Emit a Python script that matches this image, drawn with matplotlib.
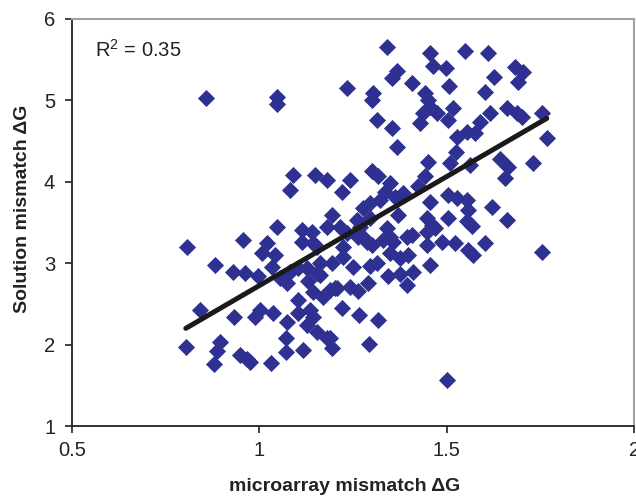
import numpy as np
import matplotlib
matplotlib.use("Agg")
from matplotlib import pyplot as plt

plt.rcParams["font.family"] = ["Liberation Sans", "DejaVu Sans"]
plt.rcParams["mathtext.default"] = "regular"

# microarray mismatch dG (x) and solution mismatch dG (y)
micro = [
    0.857, 1.047, 1.047, 1.233, 1.340, 1.455, 1.548, 1.609, 1.463, 1.497,
    1.367, 1.353, 1.407, 1.303, 1.300, 1.505, 1.625, 1.681, 1.703, 1.689,
    1.601, 1.441, 1.449, 1.455, 1.436, 1.473, 1.428, 1.516, 1.503, 1.313,
    1.353, 1.367, 1.615, 1.660, 1.687, 1.700, 1.753, 1.767, 1.588, 1.553,
    1.527, 1.575, 1.524, 1.449, 1.508, 1.561, 1.641, 1.663, 1.655, 1.729,
    1.300, 1.316, 1.441, 1.423, 1.348, 1.335, 1.321, 1.361, 1.383, 1.455,
    1.503, 1.527, 1.553, 1.556, 1.276, 1.295, 1.268, 1.369, 1.620, 1.660,
    1.447, 1.460, 1.447, 1.468, 1.503, 1.553, 1.567, 1.340, 1.348, 1.329,
    1.356, 1.393, 1.407, 1.276, 1.300, 1.447, 1.487, 1.521, 1.556, 1.569,
    1.601, 1.753, 1.348, 1.375, 1.396, 1.455, 1.409, 1.375, 1.343, 1.295,
    1.313, 1.393, 1.289, 1.241, 1.263, 1.201, 1.220, 1.265, 1.316, 1.292,
    1.193, 1.188, 1.500, 1.089, 1.148, 1.180, 1.241, 1.081, 1.220, 0.807,
    0.956, 1.047, 1.020, 1.007, 1.041, 1.033, 0.881, 0.929, 0.961, 0.996,
    1.113, 1.140, 1.113, 1.143, 1.153, 1.193, 1.180, 1.215, 1.233, 1.260,
    1.295, 1.263, 1.287, 1.193, 1.223, 1.249, 1.161, 1.127, 1.153, 1.081,
    1.223, 1.055, 1.073, 1.103, 1.129, 1.161, 1.143, 1.169, 1.188, 1.207,
    1.103, 0.841, 0.932, 0.988, 1.001, 1.036, 1.073, 1.103, 1.135, 1.143,
    1.127, 1.153, 1.180, 1.071, 0.804, 0.895, 0.887, 0.879, 0.948, 0.967,
    0.975, 1.031, 1.071, 1.116,
]
solution = [
    5.029, 5.042, 4.956, 5.152, 5.656, 5.582, 5.607, 5.582, 5.423, 5.398,
    5.361, 5.275, 5.214, 5.091, 5.005, 5.177, 5.287, 5.410, 5.349, 5.226,
    5.103, 5.091, 5.005, 4.919, 4.845, 4.845, 4.722, 4.907, 4.759, 4.759,
    4.661, 4.428, 4.845, 4.907, 4.845, 4.796, 4.845, 4.538, 4.735, 4.612,
    4.550, 4.600, 4.366, 4.243, 4.231, 4.206, 4.280, 4.182, 4.047, 4.231,
    4.133, 4.071, 4.071, 3.948, 3.985, 3.875, 3.776, 3.813, 3.862, 3.752,
    3.838, 3.801, 3.776, 3.654, 3.678, 3.555, 3.445, 3.592, 3.690, 3.531,
    3.555, 3.469, 3.383, 3.432, 3.555, 3.518, 3.457, 3.432, 3.322, 3.285,
    3.260, 3.322, 3.346, 3.322, 3.224, 3.224, 3.260, 3.248, 3.162, 3.101,
    3.248, 3.138, 3.125, 3.064, 3.101, 2.978, 2.892, 2.867, 2.843, 2.966,
    3.002, 2.732, 2.757, 2.708, 2.658, 2.695, 2.450, 2.364, 2.302, 2.007,
    1.958, 2.081, 1.565, 4.084, 4.084, 4.022, 4.022, 3.899, 3.875, 3.199,
    3.285, 3.445, 3.248, 3.125, 3.101, 2.953, 2.978, 2.892, 2.880, 2.843,
    3.408, 3.383, 3.260, 3.248, 3.199, 3.592, 3.445, 3.445, 3.371, 3.531,
    3.740, 3.322, 3.260, 3.002, 3.076, 2.953, 3.002, 2.941, 2.880, 2.892,
    3.199, 2.818, 2.757, 2.941, 2.781, 2.855, 2.646, 2.585, 2.671, 2.695,
    2.548, 2.425, 2.339, 2.339, 2.425, 2.388, 2.278, 2.388, 2.425, 2.339,
    2.241, 2.155, 2.081, 2.081, 1.971, 2.032, 1.921, 1.762, 1.872, 1.823,
    1.786, 1.774, 1.909, 1.934,
]
r2_label = "R$^2$ = 0.35"

x = np.array(micro)
y = np.array(solution)
slope, icpt = np.polyfit(x, y, 1)
xs = np.array([x.min(), x.max()])

fig = plt.figure(figsize=(6.36, 5.0), dpi=100)
ax = fig.add_axes([0.113, 0.148, 0.884, 0.814])

ax.scatter(x, y, marker="D", s=76, color="#2e3192", linewidths=0, zorder=2)
ax.plot(xs, slope * xs + icpt, color="#1a1a1a", lw=3.6, solid_capstyle="round", zorder=3)

ax.set_xlim(0.5, 2)
ax.set_ylim(1, 6)
ax.set_xticks([0.5, 1, 1.5, 2])
ax.set_xticklabels(["0.5", "1", "1.5", "2"])
ax.set_yticks([1, 2, 3, 4, 5, 6])
ax.tick_params(direction="out", length=5, width=1.2, labelsize=14.5, color="#222222",
               labelcolor="#222222")
ax.tick_params(axis="y", pad=7)
ax.tick_params(axis="x", pad=6)

for side in ("left", "bottom"):
    ax.spines[side].set_color("#222222")
    ax.spines[side].set_linewidth(1.3)
for side in ("top", "right"):
    ax.spines[side].set_color("#9ea3a8")
    ax.spines[side].set_linewidth(1.5)

ax.text(0.561, 5.62, r2_label, fontsize=14.5, color="#222222", va="center")

ax.set_xlabel("microarray mismatch ΔG", fontsize=14, fontweight="bold", color="#222222")
ax.set_ylabel("Solution mismatch ΔG", fontsize=14, fontweight="bold", color="#222222")
ax.xaxis.set_label_coords(0.486, -0.128)
ax.yaxis.set_label_coords(-0.073, 0.533)

fig.savefig("out.png", dpi=100)
